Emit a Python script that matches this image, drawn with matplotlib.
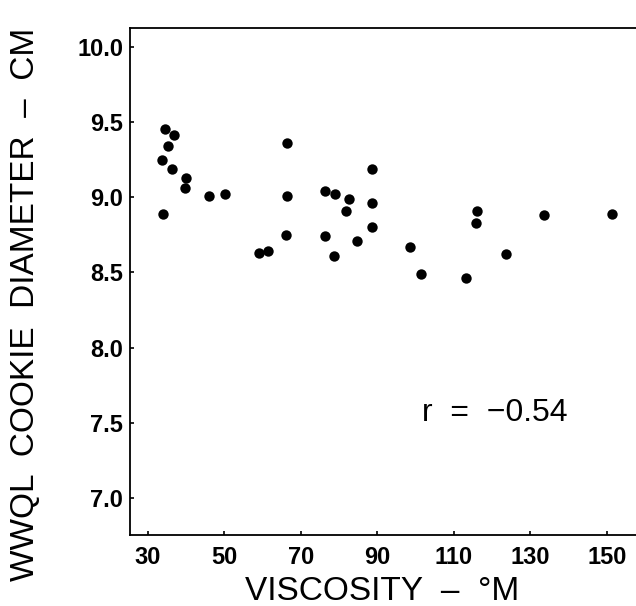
import matplotlib
matplotlib.use("Agg")
import matplotlib.pyplot as plt

## Data
viscosity = [34.4, 36.9, 35.2, 33.6, 36.3, 39.9, 39.6, 46.0, 50.1, 34.0,
             66.3, 88.5, 66.3, 76.4, 78.9, 82.5, 88.6, 81.7, 88.6, 66.0,
             76.2, 84.6, 59.0, 61.3, 78.6,
             115.9, 115.7, 133.5, 151.2, 98.6, 123.5, 101.5, 113.1]
diameter = [9.45, 9.41, 9.34, 9.25, 9.19, 9.13, 9.06, 9.01, 9.02, 8.89,
            9.36, 9.19, 9.01, 9.04, 9.02, 8.99, 8.96, 8.91, 8.80, 8.75,
            8.74, 8.71, 8.63, 8.64, 8.61,
            8.91, 8.83, 8.88, 8.89, 8.67, 8.62, 8.49, 8.46]

x_ticks = [30, 50, 70, 90, 110, 130, 150]
y_ticks = [7.0, 7.5, 8.0, 8.5, 9.0, 9.5, 10.0]
r_text = "r  =  \u22120.54"

plt.rcParams['font.family'] = ['Liberation Sans', 'DejaVu Sans']

fig = plt.figure(figsize=(6.36, 6.06), dpi=100)
ax = fig.add_axes([130/636, 71/606, 506/636, 507/606])

## Scatter of cookie diameter vs viscosity
ax.scatter(viscosity, diameter, s=56, color="black", linewidths=0, zorder=3)

ax.set_xlim(25.3, 157.6)
ax.set_ylim(6.756, 10.124)
ax.set_xticks(x_ticks)
ax.set_yticks(y_ticks)
ax.set_xticklabels([str(t) for t in x_ticks], fontsize=17, fontweight="bold")
ax.set_yticklabels(["%.1f" % t for t in y_ticks], fontsize=17, fontweight="bold")
ax.tick_params(direction="in", length=3, width=1.2)
ax.tick_params(axis="x", pad=8)
ax.tick_params(axis="y", pad=5)

ax.spines["right"].set_visible(False)
for s in ["left", "bottom", "top"]:
    ax.spines[s].set_linewidth(1.3)

ax.text(101.6, 7.51, r_text, fontsize=23, ha="left", va="baseline")

## Axis titles
fig.text(26/636, 0.497, "WWQL  COOKIE  DIAMETER  \u2013  CM", rotation=90,
         fontsize=24, ha="center", va="center")
fig.text(382/636, 6/606, "VISCOSITY  \u2013  \u00b0M", fontsize=24,
         ha="center", va="baseline")

fig.savefig("out.png", dpi=100)
